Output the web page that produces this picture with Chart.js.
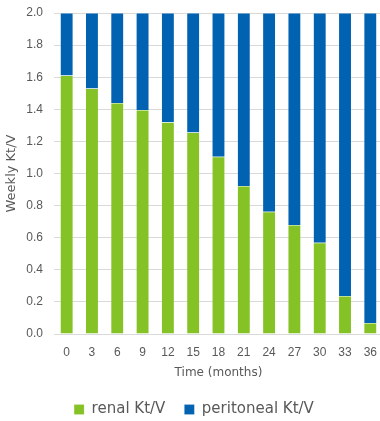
<!DOCTYPE html>
<html>
<head>
<meta charset="utf-8">
<script src="https://cdn.jsdelivr.net/npm/chart.js@4"></script>
<style>
html,body{margin:0;padding:0;background:#fff;overflow:hidden;}
#wrap{width:380px;height:421px;overflow:hidden;position:relative;}
#box{width:388px;height:427px;position:absolute;left:0;top:0;}
</style>
</head>
<body>
<div id="wrap"><div id="box"><canvas id="c"></canvas></div></div>
<script>
const categories = ['0','3','6','9','12','15','18','21','24','27','30','33','36'];
const renalKtV = [1.61,1.53,1.44,1.395,1.32,1.255,1.105,0.922,0.762,0.679,0.569,0.237,0.069];
const peritonealKtV = [0.39,0.47,0.56,0.605,0.68,0.745,0.895,1.078,1.238,1.321,1.431,1.763,1.931];
const yTicks = [0,0.2,0.4,0.6,0.8,1.0,1.2,1.4,1.6,1.8,2.0];

const TEXT_FONT = "'DejaVu Sans', sans-serif";
const TICK_FONT = "'Liberation Sans', Arial, sans-serif";
const GREY = '#595959';

new Chart(document.getElementById('c'), {
  type: 'bar',
  data: {
    labels: categories,
    datasets: [
      {label: 'renal Kt/V', data: renalKtV, backgroundColor: '#84C225', borderColor: 'rgba(255,255,255,0.35)', borderWidth: 0.5, categoryPercentage: 1, barPercentage: 0.51},
      {label: 'peritoneal Kt/V', data: peritonealKtV, backgroundColor: '#0062B1', borderColor: 'rgba(255,255,255,0.35)', borderWidth: 0.5, categoryPercentage: 1, barPercentage: 0.51}
    ]
  },
  options: {
    responsive: true,
    maintainAspectRatio: false,
    animation: false,
    layout: {padding: {top: 13, left: 0, right: 0, bottom: 0}},
    plugins: {
      tooltip: {enabled: false},
      legend: {
        position: 'bottom',
        labels: {
          font: {family: TEXT_FONT, size: 15},
          color: GREY,
          boxWidth: 10,
          boxHeight: 10,
          padding: 19
        }
      }
    },
    scales: {
      x: {
        stacked: true,
        grid: {display: false, drawTicks: false},
        border: {display: true, color: '#d9d9d9', width: 1},
        ticks: {font: {family: TICK_FONT, size: 12}, color: GREY, padding: 11, maxRotation: 0, autoSkip: false},
        title: {display: true, text: 'Time (months)', font: {family: TEXT_FONT, size: 12}, color: GREY, padding: {top: 0, bottom: 3}},
        afterFit: s => { s.height = 49; }
      },
      y: {
        stacked: true,
        min: 0,
        max: 2,
        afterBuildTicks: s => { s.ticks = yTicks.map(v => ({value: v})); },
        grid: {color: '#d9d9d9', lineWidth: 1, drawTicks: false},
        border: {display: false},
        ticks: {font: {family: TICK_FONT, size: 12}, color: GREY, padding: 11, callback: v => Number(v).toFixed(1)},
        title: {display: true, text: 'Weekly Kt/V', font: {family: TEXT_FONT, size: 13}, color: GREY, padding: {top: 4, bottom: 0}},
        afterFit: s => { s.width = 54; s.paddingTop = 0; s.paddingBottom = 0; }
      }
    }
  }
});
</script>
</body>
</html>
